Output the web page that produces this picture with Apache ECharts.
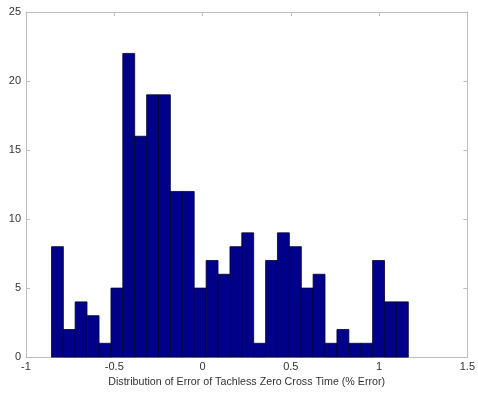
<!DOCTYPE html>
<html>
<head>
<meta charset="utf-8">
<script src="https://cdn.jsdelivr.net/npm/echarts@6/dist/echarts.min.js"></script>
<style>html,body{margin:0;padding:0;background:#fff;overflow:hidden;}#c{position:absolute;left:0;top:0;width:478px;height:393px;}</style>
</head>
<body>
<div id="c"></div>
<script>
var binCenters = [-0.822, -0.755, -0.688, -0.620, -0.553, -0.485, -0.418, -0.351, -0.283, -0.216,
                  -0.148, -0.081, -0.014, 0.054, 0.121, 0.189, 0.256, 0.323, 0.391, 0.458,
                  0.526, 0.593, 0.660, 0.728, 0.795, 0.863, 0.930, 0.997, 1.065, 1.132];
var counts = [8, 2, 4, 3, 1, 5, 22, 16, 19, 19,
              12, 12, 5, 7, 6, 8, 9, 1, 7, 9,
              8, 5, 6, 1, 2, 1, 1, 7, 4, 4];
var binWidth = 0.0674;
var xTicks = [-1, -0.5, 0, 0.5, 1, 1.5];
var yTicks = [0, 5, 10, 15, 20, 25];
var xTitle = 'Distribution of Error of Tachless Zero Cross Time (% Error)';

var data = binCenters.map(function (c, i) { return [c, counts[i]]; });
var chart = echarts.init(document.getElementById('c'), null, {renderer: 'canvas', width: 478, height: 393});
var axisLine = {show: true, onZero: false, lineStyle: {color: '#bdbdbd', width: 1}};
var tick = {show: true, inside: true, length: 4, lineStyle: {color: '#bdbdbd'}};
var lbl = {color: '#333', fontFamily: 'Liberation Sans, Arial, sans-serif', fontSize: 11};
chart.setOption({
  animation: false,
  backgroundColor: '#fff',
  grid: {left: 26, right: 6, top: 12, bottom: 29, containLabel: false},
  xAxis: [{
    type: 'value', min: xTicks[0], max: xTicks[xTicks.length - 1], interval: 0.5,
    axisLine: axisLine, axisTick: tick, splitLine: {show: false},
    axisLabel: Object.assign({margin: 4}, lbl),
    name: xTitle, nameLocation: 'middle', nameGap: 15,
    nameTextStyle: {color: '#333', fontFamily: 'Liberation Sans, Arial, sans-serif', fontSize: 10.7}
  }, {
    type: 'value', position: 'top', min: xTicks[0], max: xTicks[xTicks.length - 1], interval: 0.5,
    axisLine: axisLine, axisTick: tick, axisLabel: {show: false}, splitLine: {show: false}
  }],
  yAxis: [{
    type: 'value', min: yTicks[0], max: yTicks[yTicks.length - 1], interval: 5,
    axisLine: axisLine, axisTick: tick, splitLine: {show: false},
    axisLabel: Object.assign({margin: 5}, lbl)
  }, {
    type: 'value', position: 'right', min: yTicks[0], max: yTicks[yTicks.length - 1], interval: 5,
    axisLine: axisLine, axisTick: tick, axisLabel: {show: false}, splitLine: {show: false}
  }],
  series: [{
    type: 'custom',
    data: data,
    renderItem: function (params, api) {
      var c = api.value(0), v = api.value(1);
      var p0 = api.coord([c - binWidth / 2, 0]);
      var p1 = api.coord([c + binWidth / 2, v]);
      return {
        type: 'rect',
        shape: {x: p0[0], y: p1[1], width: p1[0] - p0[0], height: p0[1] - p1[1]},
        style: {fill: '#000088', stroke: '#000033', lineWidth: 0.8}
      };
    }
  }]
});
</script>
</body>
</html>
